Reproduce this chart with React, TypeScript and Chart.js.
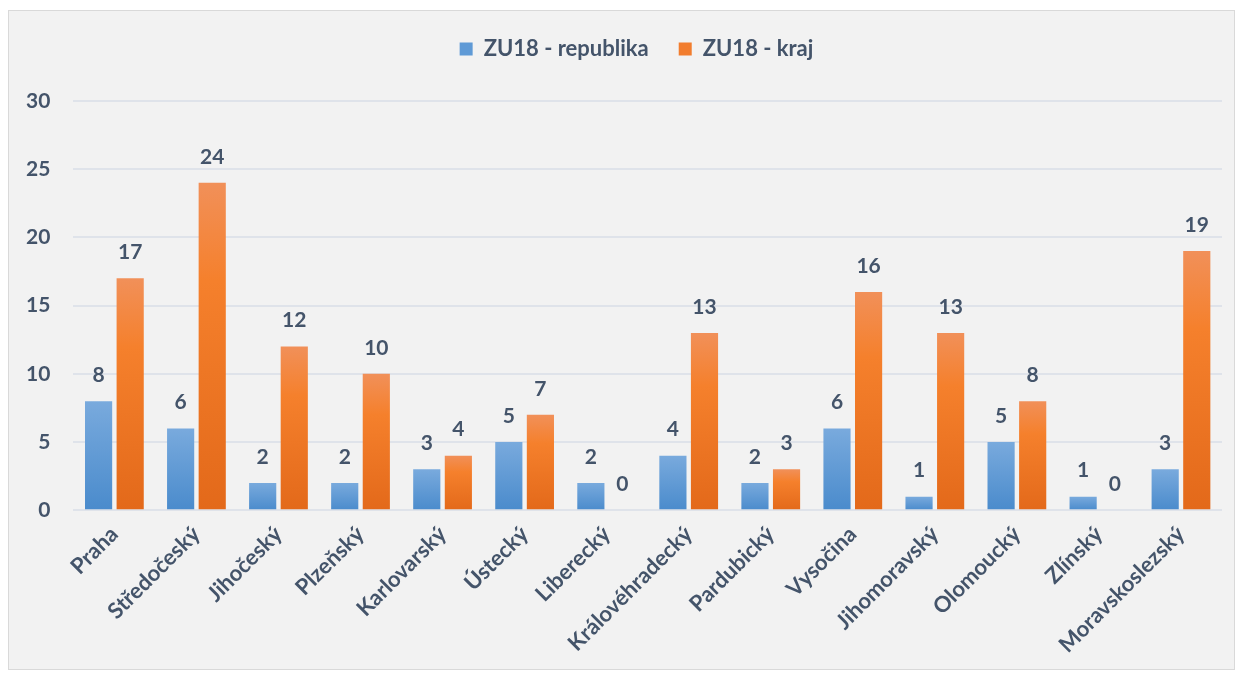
import React, { useEffect, useRef } from "react";
import { Chart, registerables } from "chart.js";

Chart.register(...registerables);

const categories = [
  "Praha",
  "Středočeský",
  "Jihočeský",
  "Plzeňský",
  "Karlovarský",
  "Ústecký",
  "Liberecký",
  "Královéhradecký",
  "Pardubický",
  "Vysočina",
  "Jihomoravský",
  "Olomoucký",
  "Zlínský",
  "Moravskoslezský",
];
const republika = [8, 6, 2, 2, 3, 5, 2, 4, 2, 6, 1, 5, 1, 3];
const kraj = [17, 24, 12, 10, 4, 7, 0, 13, 3, 16, 13, 8, 0, 19];
const seriesNames = ["ZU18 - republika", "ZU18 - kraj"];
const yTicks = [0, 5, 10, 15, 20, 25, 30];

const TEXT = "#44546A";
const FONT = "Lato, 'Open Sans', sans-serif";

const blueStops: [number, string][] = [
  [0, "#79aadd"],
  [1, "#4a8bcc"],
];
const orangeStops: [number, string][] = [
  [0, "#f19059"],
  [0.3, "#f5802c"],
  [1, "#e3691a"],
];

function gradFor(stops: [number, string][]) {
  return (ctx: any) => {
    const chart = ctx.chart;
    const y = chart.scales && chart.scales.y;
    if (!y || ctx.type !== "data") return stops[stops.length - 1][1];
    const v = ctx.raw as number;
    const top = y.getPixelForValue(v);
    const base = y.getPixelForValue(0);
    if (!isFinite(top) || !isFinite(base) || base - top < 1) return stops[0][1];
    const g = chart.ctx.createLinearGradient(0, top, 0, base);
    stops.forEach(([o, c]) => g.addColorStop(o, c));
    return g;
  };
}

const valueLabels = {
  id: "valueLabels",
  afterDatasetsDraw(chart: any) {
    const ctx = chart.ctx;
    ctx.save();
    ctx.font = `bold 21px ${FONT}`;
    ctx.fillStyle = TEXT;
    ctx.textAlign = "center";
    ctx.textBaseline = "middle";
    chart.data.datasets.forEach((ds: any, i: number) => {
      const meta = chart.getDatasetMeta(i);
      meta.data.forEach((bar: any, j: number) => {
        ctx.fillText(String(ds.data[j]), bar.x, bar.y - 26);
      });
    });
    ctx.restore();
  },
};

const legendTweak = {
  id: "legendTweak",
  beforeInit(chart: any) {
    const legend = chart.legend;
    if (!legend) return;
    const origFit = legend.fit;
    legend.fit = function () {
      origFit.call(this);
      this.height += 31;
    };
  },
  afterLayout(chart: any) {
    const legend = chart.legend;
    if (!legend) return;
    legend.left += 24;
    legend.right += 24;
  },
};

export default function App() {
  const ref = useRef<HTMLCanvasElement>(null);
  useEffect(() => {
    if (!ref.current) return;
    const chart = new Chart(ref.current, {
      type: "bar",
      data: {
        labels: categories,
        datasets: [
          {
            label: seriesNames[0],
            data: republika,
            backgroundColor: gradFor(blueStops),
            barPercentage: 0.86,
            categoryPercentage: 0.77,
          },
          {
            label: seriesNames[1],
            data: kraj,
            backgroundColor: gradFor(orangeStops),
            barPercentage: 0.86,
            categoryPercentage: 0.77,
          },
        ],
      },
      options: {
        animation: false,
        responsive: true,
        maintainAspectRatio: false,
        layout: { padding: { left: -6, right: 12, top: -3, bottom: 0 } },
        plugins: {
          legend: {
            position: "top",
            labels: {
              boxWidth: 13,
              boxHeight: 13,
              padding: 30,
              color: TEXT,
              font: { family: FONT, size: 22, weight: "bold" },
              generateLabels: () => [
                { text: seriesNames[0], fillStyle: "#5f9ad6", strokeStyle: "#5f9ad6", lineWidth: 0, datasetIndex: 0, fontColor: TEXT },
                { text: seriesNames[1], fillStyle: "#f27d2e", strokeStyle: "#f27d2e", lineWidth: 0, datasetIndex: 1, fontColor: TEXT },
              ],
            },
          },
          tooltip: { enabled: false },
        },
        scales: {
          x: {
            grid: { display: false, drawTicks: false },
            border: { display: false },
            afterFit: (axis: any) => {
              axis.paddingLeft = 0;
              axis.paddingRight = 0;
            },
            ticks: {
              color: TEXT,
              font: { family: FONT, size: 22, weight: "bold" },
              maxRotation: 45,
              minRotation: 45,
              padding: 11,
              autoSkip: false,
            },
          },
          y: {
            min: 0,
            max: 30,
            afterBuildTicks: (axis: any) => {
              axis.ticks = yTicks.map((v) => ({ value: v }));
            },
            grid: { color: "#dfe3ea", lineWidth: 2, drawTicks: false },
            border: { display: false },
            ticks: {
              color: TEXT,
              font: { family: FONT, size: 21, weight: "bold" },
              padding: 23,
            },
          },
        },
      },
      plugins: [valueLabels, legendTweak],
    });
    return () => chart.destroy();
  }, []);

  return (
    <div
      style={{
        marginTop: 2,
        width: 1227,
        height: 660,
        boxSizing: "border-box",
        border: "1px solid #d9d9d9",
        background: "#f2f2f2",
      }}
    >
      <div style={{ position: "relative", width: "100%", height: "100%" }}>
        <canvas ref={ref} />
      </div>
    </div>
  );
}
